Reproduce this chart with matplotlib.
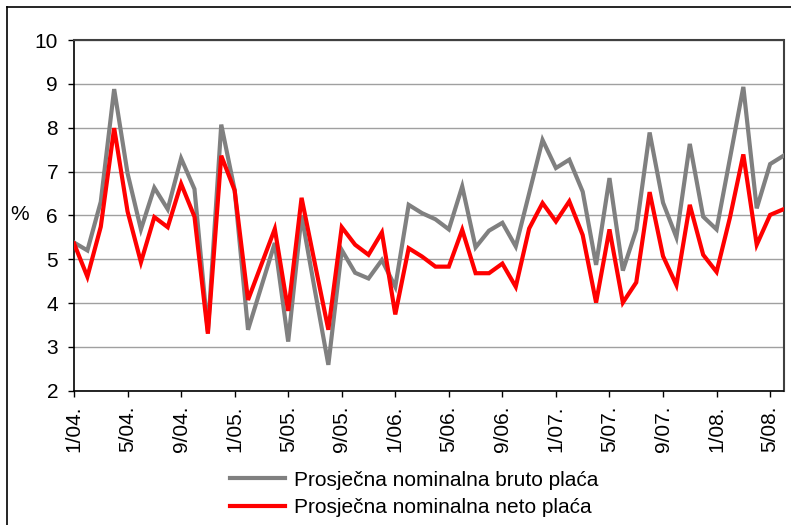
import matplotlib
matplotlib.use("Agg")
import matplotlib.pyplot as plt
from matplotlib.lines import Line2D

months = [f"{m}/{y:02d}." for y in range(4, 9) for m in range(1, 13)][:54]

bruto = [5.38, 5.20, 6.31, 8.88, 6.96, 5.68, 6.63, 6.14, 7.30, 6.60,
         3.35, 8.07, 6.58, 3.39, 4.38, 5.37, 3.12, 6.00, 4.28, 2.59,
         5.21, 4.69, 4.56, 4.98, 4.37, 6.24, 6.05, 5.91, 5.68, 6.66,
         5.27, 5.65, 5.83, 5.29, 6.50, 7.72, 7.08, 7.27, 6.54, 4.87,
         6.85, 4.74, 5.67, 7.89, 6.29, 5.50, 7.63, 5.97, 5.68, 7.30,
         8.93, 6.16, 7.17, 7.36]

neto = [5.36, 4.60, 5.74, 7.99, 6.09, 4.93, 5.96, 5.73, 6.72, 5.97,
        3.30, 7.36, 6.57, 4.07, 4.88, 5.69, 3.82, 6.40, 4.89, 3.39,
        5.73, 5.33, 5.10, 5.61, 3.74, 5.25, 5.06, 4.83, 4.83, 5.67,
        4.68, 4.68, 4.90, 4.37, 5.70, 6.28, 5.86, 6.32, 5.55, 4.01,
        5.68, 4.01, 4.47, 6.53, 5.07, 4.41, 6.24, 5.10, 4.71, 5.95,
        7.39, 5.33, 6.01, 6.14]

labels = ["Prosječna nominalna bruto plaća", "Prosječna nominalna neto plaća"]
yticks = [2, 3, 4, 5, 6, 7, 8, 9, 10]

plt.rcParams['font.family'] = ['Liberation Sans', 'DejaVu Sans']

W, H = 791, 525
fig = plt.figure(figsize=(W / 100, H / 100), dpi=100)
ax = fig.add_axes([74 / W, 1 - 390.7 / H, (783.5 - 74) / W, (390.7 - 40) / H])

x = list(range(len(months)))
ax.plot(x, bruto, color='#808080', lw=3.0, solid_joinstyle='miter', label=labels[0], zorder=3)
ax.plot(x, neto, color='#ff0000', lw=3.0, solid_joinstyle='miter', label=labels[1], zorder=4)

ax.set_xlim(0, len(months) - 1)
ax.set_ylim(2, 10)
ax.set_yticks(yticks)
ax.set_yticklabels([str(v) for v in yticks], fontsize=15)
ax.set_xticks(x[::4])
ax.set_xticklabels(months[::4], rotation=90, fontsize=15)
ax.tick_params(axis='y', direction='out', length=4.5, width=1, pad=7)
ax.tick_params(axis='x', direction='out', length=4, width=1, pad=7)

ax.grid(axis='y', color='#a0a0a0', lw=1)
ax.set_axisbelow(True)
for s in ['left', 'bottom']:
    ax.spines[s].set_color('black')
    ax.spines[s].set_linewidth(1.2)
for s in ['top', 'right']:
    ax.spines[s].set_color('#404040')
    ax.spines[s].set_linewidth(1.5)

fig.text(20 / W, 1 - 215 / H, '%', fontsize=15, ha='center', va='center')

# outer frame
fig.add_artist(Line2D([7 / W, 7 / W], [0, 1 - 7 / H], color='black', lw=1.2, transform=fig.transFigure))
fig.add_artist(Line2D([7 / W, 1], [1 - 7 / H, 1 - 7 / H], color='black', lw=1.2, transform=fig.transFigure))

fig.legend(loc='center', bbox_to_anchor=(414 / W, 1 - 494 / H), frameon=False,
           fontsize=15, handlelength=2.65, handletextpad=0.4, labelspacing=0.42,
           borderpad=0, borderaxespad=0)

fig.savefig('out.png', dpi=100)
